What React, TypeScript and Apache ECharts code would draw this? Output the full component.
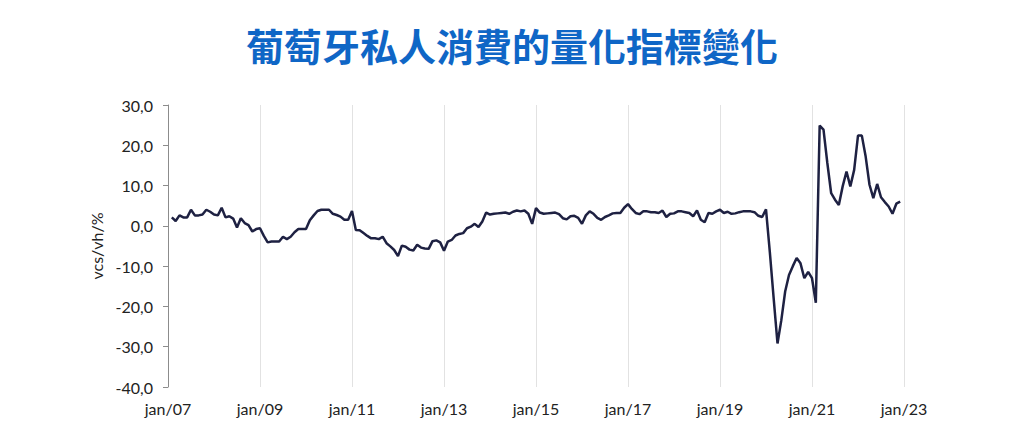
import React, { useEffect, useRef } from "react";
import * as echarts from "echarts";

const TITLE = "葡萄牙私人消費的量化指標變化";
const Y_NAME = "vcs/vh/%";
const START_YEAR = 2007;
const FIRST_MONTH_INDEX = 1; // Feb 2007
const X_MIN = 0;
const X_MAX = 192;
const X_INTERVAL = 24;
const Y_MIN = -40;
const Y_MAX = 30;
const Y_INTERVAL = 10;

// monthly values, Feb 2007 .. Dec 2022
const values2007_2010: number[] = [
  2.1, 1.2, 2.6, 2.1, 2.1, 4.0, 2.6, 2.6, 2.8, 4.0, 3.5,
  2.8, 2.6, 4.5, 2.1, 2.4, 1.8, -0.4, 1.9, 0.7, 0.2, -1.4, -0.8,
  -0.6, -2.5, -4.1, -3.9, -3.9, -3.9, -2.7, -3.3, -2.7, -1.6, -0.8, -0.8,
  -0.8, 1.4, 2.6, 3.7, 4.0, 4.0, 4.0, 3.0, 2.7, 2.3, 1.5, 1.5,
];
const values2011_2014: number[] = [
  3.7, -1.0, -1.1, -1.8, -2.5, -3.1, -3.1, -3.3, -2.7, -4.3, -5.1, -6.0,
  -7.5, -4.9, -5.2, -5.9, -6.1, -4.7, -5.4, -5.6, -5.7, -3.8, -3.6, -4.1,
  -6.2, -3.9, -3.5, -2.4, -2.0, -1.8, -0.6, -0.2, 0.5, -0.3, 1.1, 3.3,
  2.8, 3.0, 3.1, 3.2, 3.3, 3.0, 3.5, 3.8, 3.6, 3.8, 3.0, 0.5,
];
const values2015_2018: number[] = [
  4.4, 3.3, 3.0, 3.1, 3.2, 3.3, 2.9, 1.9, 1.6, 2.4, 2.5, 2.0,
  0.5, 2.6, 3.6, 3.0, 2.0, 1.5, 2.2, 2.6, 3.1, 3.2, 3.2, 4.5,
  5.4, 4.2, 3.2, 2.9, 3.6, 3.6, 3.4, 3.4, 3.2, 3.8, 2.2, 3.0,
  3.1, 3.6, 3.6, 3.4, 3.2, 2.4, 3.8, 1.5, 0.9, 3.2, 3.0, 3.6,
];
const values2019_2022: number[] = [
  4.0, 3.2, 3.5, 3.0, 3.1, 3.4, 3.6, 3.6, 3.6, 3.4, 2.5, 2.2,
  4.1, -6.5, -18.0, -29.2, -23.4, -16.3, -12.2, -10.0, -8.0, -9.3, -13.0, -11.4,
  -13.0, -19.1, 24.9, 23.9, 15.6, 8.1, 6.5, 5.2, 9.8, 13.5, 9.8, 13.9,
  22.4, 22.4, 17.2, 10.2, 6.9, 10.4, 7.1, 5.9, 4.8, 3.0, 5.5, 6.0,
];

const values = [...values2007_2010, ...values2011_2014, ...values2015_2018, ...values2019_2022];

function xLabel(v: number): string {
  const year = START_YEAR + Math.floor(v / 12);
  return "jan/" + String(year % 100).padStart(2, "0");
}

export default function App() {
  const ref = useRef<HTMLDivElement>(null);
  useEffect(() => {
    if (!ref.current) return;
    const chart = echarts.init(ref.current, null, { renderer: "svg" });
    const data = values.map((v, i) => [FIRST_MONTH_INDEX + i, v]);
    chart.setOption({
      animation: false,
      backgroundColor: "#ffffff",
      title: {
        text: TITLE,
        left: "center",
        top: 20,
        textStyle: {
          fontFamily: "Noto Sans CJK TC",
          fontWeight: "bold",
          fontSize: 38,
          color: "#0f66c6",
        },
      },
      grid: { left: 168, right: 120, top: 105, bottom: 57, containLabel: false },
      xAxis: {
        type: "value",
        min: X_MIN,
        max: X_MAX,
        interval: X_INTERVAL,
        axisLine: { show: false },
        axisTick: { show: false },
        splitLine: { show: true, lineStyle: { color: "#e2e2e2", width: 1 } },
        axisLabel: {
          formatter: xLabel,
          margin: 13,
          fontFamily: "Lato",
          fontSize: 16,
          color: "#222222",
        },
      },
      yAxis: {
        type: "value",
        min: Y_MIN,
        max: Y_MAX,
        interval: Y_INTERVAL,
        name: Y_NAME,
        nameLocation: "middle",
        nameGap: 58,
        nameRotate: 90,
        nameTextStyle: { fontFamily: "Lato", fontSize: 16, color: "#222222" },
        axisLine: { show: true, lineStyle: { color: "#8c8c8c", width: 1 } },
        axisTick: { show: true, inside: false, length: 5, lineStyle: { color: "#8c8c8c" } },
        splitLine: { show: false },
        axisLabel: {
          formatter: (v: number) => v.toFixed(1).replace(".", ","),
          margin: 15,
          fontFamily: "Lato",
          fontSize: 16,
          color: "#222222",
        },
      },
      series: [
        {
          type: "line",
          data,
          showSymbol: false,
          symbol: "none",
          lineStyle: { color: "#1e2142", width: 2.5 },
        },
      ],
    });
    return () => chart.dispose();
  }, []);
  return (
    <div
      ref={ref}
      style={{ position: "absolute", left: 0, top: 0, width: 1024, height: 444 }}
    />
  );
}
